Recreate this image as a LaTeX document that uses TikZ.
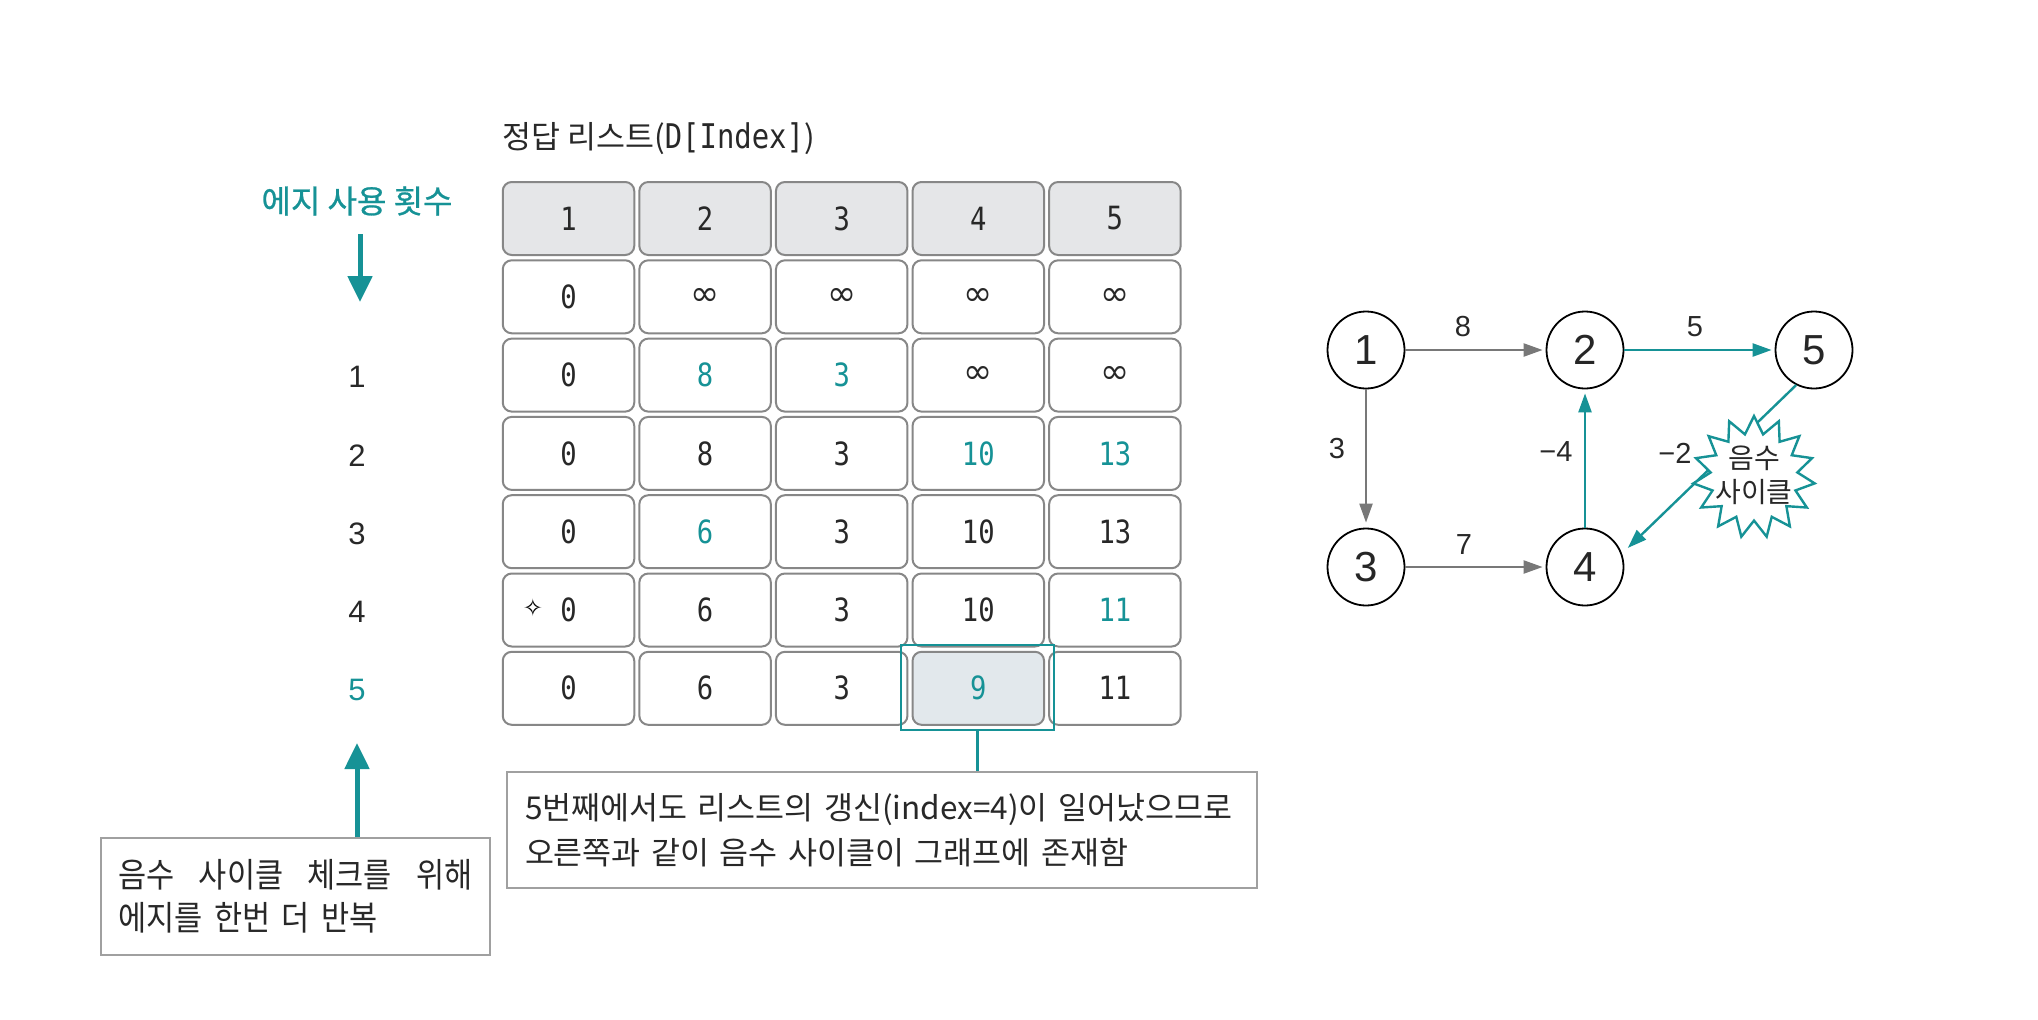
\documentclass[tikz,border=0pt]{standalone}
\usepackage{fontspec}
\setmainfont{Noto Sans CJK KR}
\newfontfamily\krfont{Noto Sans CJK KR}
\newfontfamily\krnarrow[FakeStretch=0.9]{Noto Sans CJK KR}
\newfontfamily\krmed[FakeBold=0.8]{Noto Sans CJK KR}
\newfontfamily\cellmono[FakeStretch=0.85]{DejaVu Sans Mono}
\newfontfamily\dvfont{DejaVu Sans}
\newfontfamily\latfont{Liberation Sans}
\usetikzlibrary{arrows.meta,shapes.geometric}
\definecolor{tealc}{RGB}{22,146,150}
\definecolor{arrgray}{RGB}{120,120,120}
\definecolor{cellborder}{RGB}{135,135,135}
\definecolor{hdrfill}{RGB}{229,230,232}
\definecolor{hlfill}{RGB}{226,232,236}
\definecolor{txt}{RGB}{40,40,40}
\definecolor{boxborder}{RGB}{160,160,160}
\newcommand\tlc[1]{\textcolor{tealc}{#1}}
\newcommand\infs{{\dvfont\fontsize{35}{35}\selectfont ∞}}
\begin{document}
\begin{tikzpicture}[x=1pt,y=-1pt,
  cellbox/.style={draw=cellborder, line width=2pt, rounded corners=9pt,
    minimum width=131.5pt, minimum height=73pt, inner sep=0pt,
    font=\cellmono\fontsize{32}{32}\selectfont, text=txt},
  infobox/.style={draw=boxborder, line width=1.5pt, align=left, text=txt},
  bigarr/.style={draw=tealc, line width=5pt, -{Triangle[length=26pt,width=24pt]}},
  gnode/.style={circle, draw=black, line width=1.8pt, minimum size=77pt, inner sep=0pt,
    font=\latfont\fontsize{42}{42}\selectfont, text=black!85},
  garr/.style={draw=arrgray, line width=2.2pt, -{Triangle[length=19pt,width=13pt]}, shorten >=3pt},
  tarr/.style={draw=tealc, line width=2.4pt, -{Triangle[length=19pt,width=13pt]}, shorten >=3pt},
  elabel/.style={inner sep=0pt, font=\latfont\fontsize{29}{29}\selectfont, text=txt},
  numlabel/.style={inner sep=0pt, font=\latfont\fontsize{31}{31}\selectfont, text=txt}
]
\fill[white] (0,0) rectangle (2038,1020);
\useasboundingbox (0,0) rectangle (2038,1020);

% title
\node[anchor=west, inner sep=0pt, text=txt, font=\krfont\fontsize{31.5}{31.5}\selectfont] (title) at (502,139)
  {정답 리스트({\cellmono\fontsize{34}{34}\selectfont D[Index]})};

% table
\foreach [count=\j from 0] \row in {{1,2,3,4,5},{0,\infs,\infs,\infs,\infs},{0,\tlc{8},\tlc{3},\infs,\infs},{0,8,3,\tlc{10},\tlc{13}},{0,\tlc{6},3,10,13},{0,6,3,10,\tlc{11}},{0,6,3,\tlc{9},11}}{
  \foreach [count=\i] \v in \row {
    \ifnum\j=0 \def\cf{hdrfill}\else\def\cf{white}\fi
    \ifnum\j=6 \ifnum\i=4 \def\cf{hlfill}\fi\fi
    \node[cellbox, fill=\cf] (c\j\i) at ({568.5+136.6*(\i-1)},{218.5+78.3*\j}) {\v};
  }
}
\node[inner sep=0pt, text=black, font=\dvfont\fontsize{24}{24}\selectfont] (spark) at (533,608) {✧};

% highlight box and note
\node[draw=tealc, line width=2.5pt, minimum width=153pt, minimum height=85pt, inner sep=0pt] (hl) at (977.4,687.5) {};
\node[infobox, minimum width=750pt, minimum height=116pt, text width=714pt, inner xsep=18pt,
  font=\krfont\fontsize{31.5}{45}\selectfont] (note) at (882,830)
  {\mbox{5번째에서도 리스트의 갱신(index=4)이 일어났으므로}\\\mbox{오른쪽과 같이 음수 사이클이 그래프에 존재함}};
\draw[draw=tealc, line width=2.5pt] (hl.south) -- (hl.south |- note.north);

% left column
\node[inner sep=0pt, text=tealc, font=\krmed\fontsize{32}{32}\selectfont] (usage) at (357,201) {에지 사용 횟수};
\coordinate (dstart) at (360,234);
\coordinate (dtip) at (360,302);
\draw[bigarr] (dstart) -- (dtip);
\foreach \k in {1,2,3,4} {
  \node[numlabel] (it\k) at (357,{220.5+78.3*(\k+1)}) {\k};
}
\node[numlabel, text=tealc] (it5) at (357,690.3) {5};
\node[infobox, minimum width=389pt, minimum height=117pt, text width=354pt, inner xsep=17.5pt,
  font=\krnarrow\fontsize{34}{43}\selectfont] (note2) at (295.5,896.5)
  {\hbox to 354pt{음수\hfill 사이클\hfill 체크를\hfill 위해}\\에지를 한번 더 반복};
\coordinate (uptip) at (357,743);
\draw[bigarr] (uptip |- note2.north) -- (uptip);

% graph
\node[gnode] (n1) at (1366,350) {1};
\node[gnode] (n2) at (1585,350) {2};
\node[gnode] (n5) at (1814,350) {5};
\node[gnode] (n3) at (1366,567) {3};
\node[gnode] (n4) at (1585,567) {4};

\draw[garr] (n1) -- (n2);
\draw[garr, shorten >=5pt] (n1) -- (n3);
\draw[garr] (n3) -- (n4);
\draw[tarr, shorten >=4pt] (n4) -- (n2);
\draw[tarr] (n2) -- (n5);
\draw[tarr, shorten >=8pt] (n5.243) -- (n4.20);

\node[star, star points=15, star point ratio=1.4, minimum size=122pt, inner sep=0pt,
  draw=tealc, line width=2.4pt, fill=white] (burst) at (1754,477) {};
\node[inner sep=0pt, align=center, text=txt, font=\krfont\fontsize{28}{34}\selectfont] (bursttxt) at (1754,475) {음수\\사이클};

\node[elabel] (l8) at (1463,327) {8};
\node[elabel] (l5) at (1695,327) {5};
\node[elabel] (l3) at (1337,449) {3};
\node[elabel] (l7) at (1464,545) {7};
\node[elabel] (lm4) at (1556,452) {−4};
\node[elabel] (lm2) at (1675,453) {−2};
\end{tikzpicture}
\end{document}
